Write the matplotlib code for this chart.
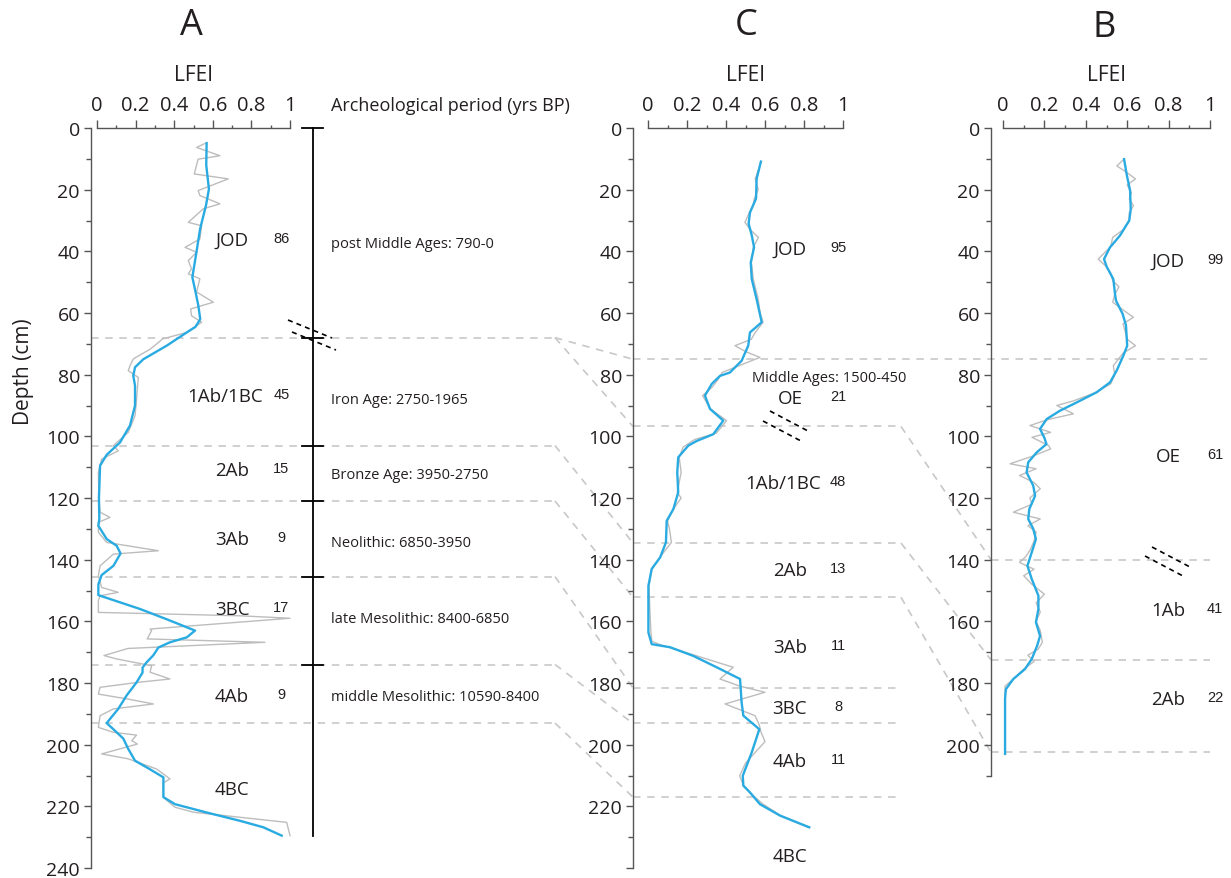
import numpy as np
import matplotlib.pyplot as plt
from matplotlib.ticker import MultipleLocator, FuncFormatter

plt.rcParams['font.family'] = ['Open Sans', 'DejaVu Sans']

# ---------------- data ----------------
# profile A (depth cm, LFEI)
a_raw_depth = [5, 6.3, 9.0, 10.1, 14.9, 16.5, 20.3, 21.9, 24.6, 26.2, 30.6, 31.7, 36.0, 38.7, 40.3,
               43.0, 45.7, 47.3, 48.9, 53.2, 56.5, 58.7, 60.9, 63.0, 66.3, 68.4, 70.0, 71.7, 74.9,
               77.1, 78.7, 80.9, 87.9, 93.3, 98.7, 103.0, 104.7, 107.4, 111.7, 120.3, 124.6, 126.3,
               127.9, 131.1, 134.4, 137.1, 138.2, 142.0, 145.2, 149.0, 150.6, 151.7, 153.3, 157.1,
               158.2, 159.0, 162.5, 163.0, 165.7, 166.8, 168.8, 171.1, 172.2, 174.4, 176.5, 178.7,
               179.8, 181.4, 183.6, 185.2, 186.8, 188.4, 190.6, 194.4, 196.0, 196.9, 198.7, 199.8,
               203.0, 204.6, 207.9, 211.1, 212.4, 217.1, 220.3, 221.9, 225.2, 229.5]
a_raw_lfei = [0.56, 0.516, 0.637, 0.524, 0.504, 0.68, 0.524, 0.533, 0.637, 0.551, 0.473, 0.542, 0.533,
              0.456, 0.516, 0.473, 0.49, 0.473, 0.533, 0.516, 0.603, 0.485, 0.49, 0.542, 0.465, 0.34,
              0.31, 0.276, 0.188, 0.171, 0.162, 0.214, 0.205, 0.197, 0.162, 0.085, 0.11, 0.024, 0.007,
              0.01, 0.016, 0.067, 0.007, 0.007, 0.05, 0.318, 0.085, 0.016, 0.007, 0.024, 0.11, 0.016,
              0.007, 0.007, 0.74, 1.0, 0.275, 0.283, 0.26, 0.87, 0.16, 0.036, 0.102, 0.283, 0.275,
              0.378, 0.21, 0.016, 0.007, 0.16, 0.292, 0.085, 0.016, 0.007, 0.085, 0.205, 0.18, 0.209,
              0.024, 0.162, 0.309, 0.378, 0.344, 0.344, 0.404, 0.499, 0.983, 1.0]
a_fit_depth = [4.9, 12, 19.8, 25, 32.8, 40, 48.4, 53, 57.6, 62, 64.5, 66.3, 70.6, 75, 77.6, 80.3,
               83.6, 90, 96.5, 102, 106, 109.5, 120, 126.8, 129, 133.3, 135.5, 138, 142, 145, 148,
               151.5, 156, 159.3, 163, 165.2, 166.8, 168.5, 171, 173.3, 175, 176.6, 179.8, 184,
               188.4, 193, 195, 198, 201.4, 205.2, 208, 210.6, 217, 219.3, 222, 224.7, 226.8, 229.5]
a_fit_lfei = [0.568, 0.566, 0.58, 0.565, 0.534, 0.516, 0.494, 0.51, 0.525, 0.535, 0.51, 0.465, 0.361,
              0.24, 0.197, 0.188, 0.197, 0.197, 0.171, 0.119, 0.05, 0.016, 0.01, 0.012, 0.007, 0.05,
              0.102, 0.122, 0.085, 0.024, 0.007, 0.007, 0.223, 0.36, 0.508, 0.465, 0.378, 0.318,
              0.292, 0.257, 0.236, 0.236, 0.205, 0.154, 0.11, 0.05, 0.085, 0.136, 0.162, 0.197,
              0.275, 0.344, 0.344, 0.404, 0.568, 0.741, 0.862, 0.957]

# profile C
c_raw_depth = [10.9, 13, 16.5, 20, 22.9, 25, 27.4, 30.6, 33, 35.5, 38.7, 43.6, 49, 55.5, 60, 63,
               66.3, 68.5, 70.6, 72.5, 74.4, 77.5, 79.3, 81.5, 84, 86.8, 91.1, 94.9, 99, 101, 103.5,
               106.8, 111.7, 118.2, 120, 123.6, 127.4, 130, 134.4, 139.3, 143, 148.5, 157, 163.6,
               166.5, 167.5, 171.2, 174.9, 178.7, 181, 183, 186.8, 190.6, 193.5, 196, 199, 202.5,
               206, 210.1, 213.3, 216, 219.3, 223, 226.8]
c_raw_lfei = [0.58, 0.57, 0.55, 0.565, 0.545, 0.54, 0.52, 0.497, 0.525, 0.566, 0.54, 0.53, 0.54,
              0.565, 0.575, 0.59, 0.55, 0.53, 0.446, 0.5, 0.574, 0.45, 0.38, 0.36, 0.33, 0.28, 0.32,
              0.403, 0.35, 0.24, 0.18, 0.16, 0.17, 0.15, 0.17, 0.13, 0.1, 0.11, 0.12, 0.06, 0.02,
              0.005, 0.01, 0.015, 0.02, 0.06, 0.25, 0.437, 0.369, 0.47, 0.6, 0.395, 0.549, 0.57,
              0.58, 0.6, 0.55, 0.5, 0.47, 0.49, 0.53, 0.59, 0.68, 0.82]
c_fit_depth = [10.9, 16.5, 22.9, 27.4, 31, 34.8, 38.7, 43.6, 49, 55.5, 63, 66.3, 70.6, 75.5, 79.3,
               80.4, 83, 86.8, 91.1, 94.9, 99.3, 101.5, 103, 106.8, 111.7, 118.2, 123.6, 127.4,
               134.4, 139.3, 143, 148.5, 157, 163.6, 167.4, 168.4, 171.2, 174.9, 178.7, 186.3,
               190.6, 195, 202.5, 210.1, 213.3, 215.5, 219.3, 223, 226.8]
c_fit_lfei = [0.579, 0.557, 0.554, 0.523, 0.516, 0.532, 0.544, 0.527, 0.532, 0.557, 0.583, 0.523,
              0.514, 0.48, 0.42, 0.369, 0.327, 0.292, 0.318, 0.386, 0.335, 0.25, 0.207, 0.155, 0.15,
              0.155, 0.13, 0.096, 0.092, 0.062, 0.019, 0.002, 0.002, 0.002, 0.019, 0.113, 0.232,
              0.352, 0.472, 0.48, 0.489, 0.571, 0.532, 0.486, 0.489, 0.523, 0.574, 0.677, 0.827]

# profile B
b_raw_depth = [10.1, 12.3, 14.5, 16.5, 18.5, 21, 23, 25.2, 27.5, 30, 33, 35.5, 38.5, 42.5, 45, 47,
               49.5, 51.5, 54, 56.5, 59, 61.4, 63.5, 66, 68.5, 70.6, 73, 77.1, 80, 83, 86, 88.5, 90,
               92.7, 94.5, 96.5, 98.7, 100.3, 103, 104.1, 106.5, 108.9, 110.5, 112.7, 115, 117, 120,
               122, 124.6, 126.8, 129, 131, 134, 137, 139, 140.9, 143.1, 145.2, 148, 151.2, 154, 157,
               160, 163, 166.8, 169, 171, 173, 175.5, 178.7, 181, 185, 203]
b_raw_lfei = [0.585, 0.55, 0.6, 0.64, 0.6, 0.62, 0.61, 0.63, 0.61, 0.61, 0.58, 0.53, 0.52, 0.46, 0.5,
              0.52, 0.53, 0.56, 0.54, 0.53, 0.58, 0.63, 0.58, 0.59, 0.6, 0.64, 0.58, 0.533, 0.54,
              0.52, 0.44, 0.34, 0.26, 0.34, 0.22, 0.13, 0.23, 0.14, 0.22, 0.23, 0.14, 0.034, 0.16,
              0.08, 0.15, 0.18, 0.13, 0.14, 0.05, 0.18, 0.12, 0.16, 0.15, 0.13, 0.11, 0.08, 0.15,
              0.1, 0.14, 0.2, 0.16, 0.18, 0.16, 0.18, 0.19, 0.17, 0.12, 0.15, 0.1, 0.05, 0.01, 0.01,
              0.01]
b_fit_depth = [10.1, 14.9, 20.3, 26.3, 30, 34.9, 38.7, 42.5, 45, 49, 53.8, 56, 60.3, 64, 70.6, 73.9,
               78.7, 82.5, 85.7, 89, 91.7, 94.4, 97.6, 100.5, 102.5, 105.2, 108.4, 111.7, 116, 119.3,
               123.6, 126.8, 130, 133.3, 137.6, 142, 146.3, 151.7, 156, 160.3, 164.7, 167.9, 172.2,
               175.5, 178.7, 182, 185, 203]
b_fit_lfei = [0.585, 0.597, 0.614, 0.617, 0.61, 0.565, 0.517, 0.488, 0.501, 0.533, 0.541, 0.546,
              0.578, 0.594, 0.6, 0.581, 0.549, 0.517, 0.453, 0.356, 0.275, 0.211, 0.179, 0.2, 0.21,
              0.163, 0.122, 0.114, 0.146, 0.155, 0.127, 0.122, 0.146, 0.159, 0.139, 0.118, 0.139,
              0.171, 0.171, 0.159, 0.179, 0.165, 0.139, 0.106, 0.05, 0.014, 0.01, 0.01]

# horizons: name, count, label depth
a_hz = ['JOD', '1Ab/1BC', '2Ab', '3Ab', '3BC', '4Ab', '4BC']
a_n = ['86', '45', '15', '9', '17', '9', '']
a_hz_depth = [36.3, 86.9, 110.9, 133.3, 156.0, 184.2, 214.4]
c_hz = ['JOD', 'OE', '1Ab/1BC', '2Ab', '3Ab', '3BC', '4Ab', '4BC']
c_n = ['95', '21', '48', '13', '11', '8', '11', '']
c_hz_depth = [39.2, 87.6, 115.1, 143.4, 168.3, 188.1, 205.3, 236.1]
b_hz = ['JOD', 'OE', '1Ab', '2Ab']
b_n = ['99', '61', '41', '22']
b_hz_depth = [43.1, 106.4, 156.3, 185.2]

# horizon boundaries (cm) and their correlation between profiles
a_bounds = [68, 103, 121, 145.5, 174, 193]
c_bounds = [96.8, 134.6, 152.2, 181.6, 193.1, 217]
b_bounds = [140, 172.5, 202.5]
jod_oe_cb = 75
a_to_c = [(68, 75), (68, 96.8), (103, 134.6), (121, 152.2), (145.5, 181.6), (174, 193.1), (193, 217)]
c_to_b = [(96.8, 140), (134.6, 172.5), (152.2, 202.5)]

# archaeological periods next to profile A
periods = ['post Middle Ages: 790-0', 'Iron Age: 2750-1965', 'Bronze Age: 3950-2750',
           'Neolithic: 6850-3950', 'late Mesolithic: 8400-6850', 'middle Mesolithic: 10590-8400']
period_depth = [37.3, 87.9, 112.5, 134.3, 159.2, 184.5]
period_ticks = [0, 68, 103, 121, 145.5, 174]
period_end = 229.5

# ---------------- layout ----------------
W, H = 1231, 879
fig = plt.figure(figsize=(W / 100, H / 100), dpi=100)
TOP_PX, BOT_PX = 129, 869
PX_CM = (BOT_PX - TOP_PX) / 240.0

BLUE = '#29abe2'
GREY = '#bdbdbd'
DASH = '#c8c8c8'
SPINE = '#555555'
TXT = '#231f20'

# full-figure layer in (pixel x, depth y) for the correlation lines and labels
ov = fig.add_axes([0, 0, 1, 1])
ov.set_zorder(-1)
ov.set_xlim(0, W)
ov.set_ylim((H - TOP_PX) / PX_CM, -TOP_PX / PX_CM)
ov.axis('off')


def panel(x0, x1, dmax, gap, ymax_label):
    bot = TOP_PX + dmax * PX_CM
    ax = fig.add_axes([x0 / W, 1 - bot / H, (x1 - x0) / W, (bot - TOP_PX) / H])
    ax.patch.set_visible(False)
    ax.set_xlim(0, 1)
    ax.set_ylim(dmax, 0)
    for s in ['right', 'bottom']:
        ax.spines[s].set_visible(False)
    for s in ['left', 'top']:
        ax.spines[s].set_color(SPINE)
        ax.spines[s].set_linewidth(1.0)
    ax.spines['left'].set_position(('outward', gap * 0.72))
    ax.xaxis.tick_top()
    ax.xaxis.set_major_locator(MultipleLocator(0.2))
    ax.xaxis.set_minor_locator(MultipleLocator(0.1))
    ax.xaxis.set_major_formatter(FuncFormatter(lambda v, p: f'{v:g}'))
    ax.yaxis.set_major_locator(MultipleLocator(20))
    ax.yaxis.set_minor_locator(MultipleLocator(10))
    ax.yaxis.set_major_formatter(FuncFormatter(lambda v, p: f'{v:.0f}' if v <= ymax_label else ''))
    ax.tick_params(axis='x', which='major', length=5.5, width=1, color=SPINE, pad=4,
                   labelsize=14.5, labelcolor=TXT)
    ax.tick_params(axis='x', which='minor', length=2.5, width=1, color=SPINE)
    ax.tick_params(axis='y', which='major', length=5, width=1, color=SPINE, pad=3,
                   labelsize=14, labelcolor=TXT)
    ax.tick_params(axis='y', which='minor', length=3.4, width=1, color=SPINE)
    ax.set_xlabel('LFEI', fontsize=15, color=TXT, labelpad=11)
    ax.xaxis.set_label_position('top')
    return ax


ax_a = panel(97, 290, 240, 6, 240)
ax_c = panel(648, 843, 240, 15, 220)
ax_b = panel(1003, 1210, 210, 12, 200)

for ax, rd, rv, fd, fv in [(ax_a, a_raw_depth, a_raw_lfei, a_fit_depth, a_fit_lfei),
                           (ax_c, c_raw_depth, c_raw_lfei, c_fit_depth, c_fit_lfei),
                           (ax_b, b_raw_depth, b_raw_lfei, b_fit_depth, b_fit_lfei)]:
    ax.plot(rv, rd, color=GREY, lw=1.0, clip_on=False)
    ax.plot(fv, fd, color=BLUE, lw=1.7, clip_on=False, solid_joinstyle='round')

# horizon names and counts
for ax, names, counts, depths, xn, xc in [(ax_a, a_hz, a_n, a_hz_depth, 0.70, 0.955),
                                          (ax_c, c_hz, c_n, c_hz_depth, 0.728, 0.975),
                                          (ax_b, b_hz, b_n, b_hz_depth, 0.797, 1.025)]:
    for name, cnt, d in zip(names, counts, depths):
        x = xn - 0.035 if '/' in name else xn
        ax.text(x, d, name, fontsize=13.5, color=TXT, ha='center', va='center')
        ax.text(xc, d - 0.6, cnt, fontsize=10.5, color=TXT, ha='center', va='center',
                family=['Liberation Sans', 'DejaVu Sans'])
ax_c.text(0.532, 80.8, 'Middle Ages: 1500-450', fontsize=10.5, color=TXT, va='center')

# depth label
ov.text(24, (372 - TOP_PX) / PX_CM, 'Depth (cm)', rotation=90, fontsize=15, color=TXT,
        ha='center', va='center')

# panel letters
for x, y, s in [(191, 26, 'A'), (746, 26, 'C'), (1104, 28, 'B')]:
    ov.text(x, (y - TOP_PX) / PX_CM, s, fontsize=26, color=TXT, ha='center', va='center')

# dashed horizon boundaries and correlations
dash_kw = dict(color=DASH, lw=1.2, ls=(0, (4.5, 4)))
for d in a_bounds:
    ov.plot([91, 555], [d, d], **dash_kw)
for d in c_bounds:
    ov.plot([633, 901], [d, d], **dash_kw)
ov.plot([633, 1210], [jod_oe_cb, jod_oe_cb], **dash_kw)
for d in b_bounds:
    ov.plot([991, 1210], [d, d], **dash_kw)
for da, dc in a_to_c:
    ov.plot([555, 633], [da, dc], **dash_kw)
for dc, db in c_to_b:
    ov.plot([901, 991], [dc, db], **dash_kw)

# archaeological time line
TL_X = 312.5
ov.plot([TL_X, TL_X], [0, period_end], color='black', lw=1.3)
for d in period_ticks:
    ov.plot([302, 323], [d, d], color='black', lw=1.3)
ov.text(331, (106 - TOP_PX) / PX_CM, 'Archeological period (yrs BP)', fontsize=13, color=TXT,
        va='center')
for name, d in zip(periods, period_depth):
    ov.text(331, d, name, fontsize=10.5, color=TXT, va='center')

# hiatus marks
brk_kw = dict(color='black', lw=1.2, ls=(0, (3, 2.5)))


def hiatus(x0, y0, x1, y1, dx, dy):
    c = lambda py: (py - TOP_PX) / PX_CM
    ov.plot([x0, x1], [c(y0), c(y1)], **brk_kw)
    ov.plot([x0 + dx, x1 + dx], [c(y0 + dy), c(y1 + dy)], **brk_kw)


hiatus(288, 321, 332, 339, 4, 12)
hiatus(770, 412, 808, 432, -7, 10)
hiatus(1152, 548, 1190, 568, -7, 9)

fig.savefig('out.png', dpi=100)
